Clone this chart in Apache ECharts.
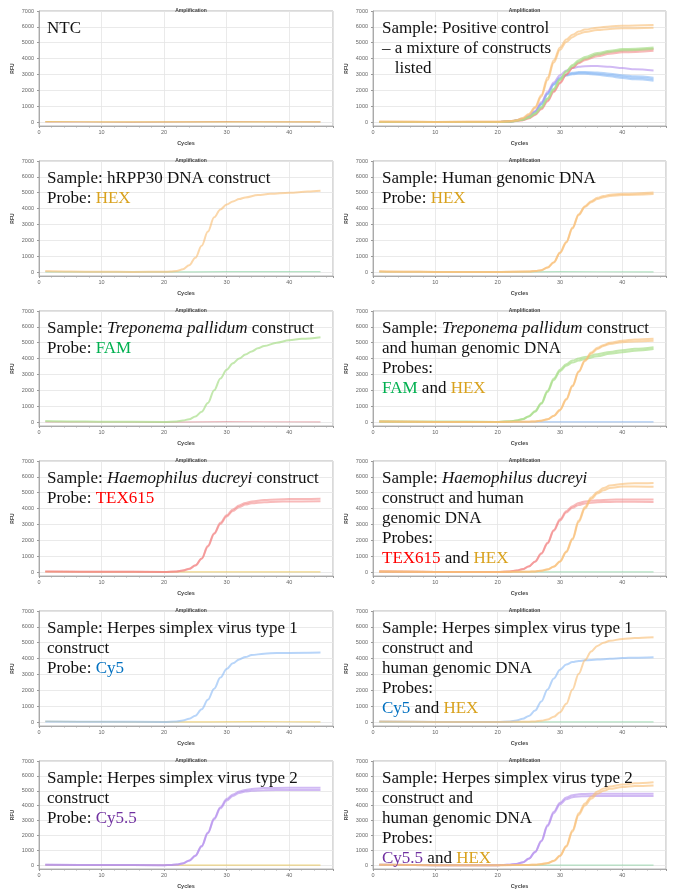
<!DOCTYPE html>
<html><head><meta charset="utf-8">
<script src="https://cdn.jsdelivr.net/npm/echarts@6/dist/echarts.min.js"></script>
<style>html,body{margin:0;padding:0;background:#fff}#c{width:673px;height:890px}</style>
</head><body><div id="c"></div>
<script>
// ---------- tick labels ----------
const yTickValues = [0, 1000, 2000, 3000, 4000, 5000, 6000, 7000];
const xTickStep = 10;

// ---------- data: [cycle, RFU] ----------
// Panel 1: NTC
const ntc_hex = [[1,30],[10,15],[20,10],[30,15],[45,10]];
const ntc_tex = [[1,10],[15,0],[30,20],[45,15]];
// Panel 2: positive control
const pc_hex_a = [[1,30],[10,10],[20,20],[22,60],[23,120],[24,250],[25,500],[26,950],[27,1700],[28,2800],[29,3900],[30,4700],[31,5200],[32,5500],[33,5700],[34,5830],[36,5950],[38,6030],[40,6070],[45,6120]];
const pc_hex_b = [[1,20],[10,10],[20,20],[22,50],[23,100],[24,220],[25,450],[26,880],[27,1600],[28,2650],[29,3750],[30,4550],[31,5050],[32,5350],[33,5550],[34,5680],[36,5800],[38,5870],[40,5910],[45,5950]];
const pc_fam_a = [[1,10],[20,10],[22,40],[24,150],[25,300],[26,550],[27,950],[28,1500],[29,2100],[30,2700],[31,3200],[32,3600],[33,3900],[34,4100],[36,4350],[38,4500],[40,4600],[45,4700]];
const pc_fam_b = [[1,10],[20,10],[22,35],[24,140],[25,280],[26,520],[27,900],[28,1450],[29,2050],[30,2650],[31,3150],[32,3520],[33,3800],[34,4000],[36,4250],[38,4420],[40,4520],[45,4620]];
const pc_tex_a = [[1,10],[20,10],[22,30],[24,120],[25,250],[26,480],[27,850],[28,1350],[29,1950],[30,2500],[31,3000],[32,3400],[33,3700],[34,3900],[36,4150],[38,4300],[40,4400],[45,4500]];
const pc_tex_b = [[1,10],[20,10],[22,30],[24,110],[25,230],[26,450],[27,800],[28,1300],[29,1900],[30,2450],[31,2980],[32,3420],[33,3750],[34,3980],[36,4250],[38,4420],[40,4500],[45,4600]];
const pc_cy55 = [[1,10],[20,10],[22,40],[24,180],[25,380],[26,700],[27,1250],[28,1900],[29,2500],[30,2950],[31,3250],[32,3400],[33,3480],[34,3520],[36,3530],[38,3480],[40,3400],[42,3330],[45,3250]];
const pc_cy5_a = [[1,10],[20,10],[22,40],[24,170],[25,350],[26,650],[27,1150],[28,1800],[29,2400],[30,2800],[31,3000],[32,3100],[33,3150],[34,3160],[36,3120],[38,3050],[40,2950],[42,2880],[45,2800]];
const pc_cy5_b = [[1,10],[20,10],[22,40],[24,160],[25,330],[26,620],[27,1100],[28,1750],[29,2350],[30,2720],[31,2920],[32,3020],[33,3050],[34,3040],[36,2980],[38,2880],[40,2780],[42,2690],[45,2600]];
const pc_cy5_c = [[1,10],[20,10],[22,40],[24,165],[25,340],[26,640],[27,1120],[28,1780],[29,2380],[30,2760],[31,2960],[32,3060],[33,3100],[34,3100],[36,3050],[38,2960],[40,2870],[42,2790],[45,2700]];
// Panel 3: hRPP30 construct, HEX
const rpp_hex = [[1,60],[5,30],[10,15],[15,10],[20,15],[21,30],[22,70],[23,180],[24,420],[25,900],[26,1650],[27,2550],[28,3450],[29,3950],[30,4250],[31,4450],[32,4600],[33,4700],[35,4850],[37,4930],[40,5000],[43,5070],[45,5120]];
const rpp_fam = [[1,10],[20,5],[30,20],[45,20]];
// Panel 4: human genomic DNA, HEX
const hg_hex_a = [[1,50],[5,25],[10,10],[20,10],[25,30],[26,60],[27,120],[28,280],[29,600],[30,1200],[31,1850],[32,2750],[33,3600],[34,4100],[35,4400],[36,4600],[37,4720],[38,4790],[40,4850],[45,4920]];
const hg_hex_b = [[1,40],[5,20],[10,10],[20,10],[25,30],[26,60],[27,120],[28,290],[29,620],[30,1230],[31,1900],[32,2800],[33,3650],[34,4150],[35,4470],[36,4680],[37,4800],[38,4870],[40,4930],[45,5020]];
const hg_fam = [[1,10],[20,5],[30,20],[45,15]];
// Panel 5: T. pallidum construct, FAM
const tp_fam = [[1,60],[5,40],[10,20],[20,10],[22,40],[23,90],[24,180],[25,350],[26,650],[27,1200],[28,2000],[29,2750],[30,3300],[31,3700],[32,4000],[33,4250],[34,4450],[35,4650],[36,4800],[38,5000],[40,5150],[42,5250],[45,5350]];
const tp_tex = [[1,10],[20,0],[30,20],[45,15]];
// Panel 6: T. pallidum + human gDNA, FAM & HEX
const tpg_fam_a = [[1,40],[10,15],[20,10],[22,40],[23,90],[24,180],[25,350],[26,650],[27,1150],[28,1900],[29,2650],[30,3200],[31,3550],[32,3750],[33,3880],[34,3980],[36,4150],[38,4300],[40,4400],[42,4500],[45,4600]];
const tpg_fam_b = [[1,40],[10,15],[20,10],[22,45],[23,95],[24,190],[25,370],[26,690],[27,1200],[28,1980],[29,2750],[30,3300],[31,3650],[32,3880],[33,4000],[34,4100],[36,4280],[38,4420],[40,4530],[42,4620],[45,4720]];
const tpg_hex_a = [[1,30],[10,10],[20,10],[25,20],[26,40],[27,80],[28,170],[29,380],[30,750],[31,1400],[32,2250],[33,3150],[34,3850],[35,4300],[36,4600],[37,4800],[38,4920],[40,5030],[42,5080],[45,5120]];
const tpg_hex_b = [[1,30],[10,10],[20,10],[25,20],[26,40],[27,85],[28,180],[29,400],[30,780],[31,1450],[32,2300],[33,3200],[34,3900],[35,4380],[36,4680],[37,4850],[38,5000],[40,5130],[42,5200],[45,5250]];
const tpg_cy5 = [[1,10],[20,5],[30,10],[45,10]];
// Panel 7: H. ducreyi construct, TEX615
const hd_tex_a = [[1,40],[10,15],[20,10],[22,40],[23,100],[24,200],[25,420],[26,850],[27,1650],[28,2450],[29,3100],[30,3580],[31,3950],[32,4200],[33,4350],[34,4450],[36,4540],[38,4580],[40,4600],[45,4620]];
const hd_tex_b = [[1,40],[10,15],[20,10],[22,40],[23,95],[24,195],[25,410],[26,830],[27,1600],[28,2400],[29,3030],[30,3500],[31,3850],[32,4100],[33,4250],[34,4330],[36,4400],[38,4430],[40,4450],[45,4460]];
const hd_hex = [[1,20],[15,10],[30,15],[45,10]];
// Panel 8: H. ducreyi + human gDNA, TEX615 & HEX
const hdg_tex_a = [[1,30],[10,10],[20,10],[22,40],[23,90],[24,180],[25,350],[26,650],[27,1150],[28,1800],[29,2600],[30,3250],[31,3750],[32,4050],[33,4220],[34,4320],[36,4400],[38,4420],[40,4430],[45,4420]];
const hdg_tex_b = [[1,30],[10,10],[20,10],[22,40],[23,90],[24,185],[25,360],[26,670],[27,1180],[28,1850],[29,2650],[30,3320],[31,3830],[32,4150],[33,4350],[34,4450],[36,4530],[38,4560],[40,4570],[45,4580]];
const hdg_hex_a = [[1,30],[10,10],[20,10],[25,20],[26,40],[27,80],[28,160],[29,330],[30,650],[31,1250],[32,2050],[33,3150],[34,4000],[35,4600],[36,4950],[37,5150],[38,5300],[40,5400],[42,5400],[45,5380]];
const hdg_hex_b = [[1,30],[10,10],[20,10],[25,20],[26,40],[27,85],[28,170],[29,345],[30,680],[31,1300],[32,2120],[33,3250],[34,4100],[35,4700],[36,5050],[37,5300],[38,5450],[40,5550],[42,5600],[45,5620]];
const hdg_fam = [[1,10],[20,5],[30,15],[45,10]];
// Panel 9: HSV-1 construct, Cy5
const hsv1_cy5 = [[1,40],[10,15],[20,10],[22,40],[23,100],[24,200],[25,400],[26,800],[27,1400],[28,2100],[29,2800],[30,3340],[31,3700],[32,3950],[33,4100],[34,4220],[36,4310],[38,4350],[40,4360],[45,4380]];
const hsv1_hex = [[1,40],[10,20],[20,10],[35,20],[45,15]];
// Panel 10: HSV-1 + human gDNA, Cy5 & HEX
const hsv1g_cy5 = [[1,30],[10,10],[20,10],[22,40],[23,100],[24,200],[25,380],[26,720],[27,1300],[28,2050],[29,2750],[30,3300],[31,3620],[32,3780],[33,3850],[34,3890],[36,3940],[38,3990],[40,4030],[42,4060],[45,4090]];
const hsv1g_hex = [[1,30],[10,10],[20,10],[25,20],[26,40],[27,80],[28,160],[29,330],[30,620],[31,1150],[32,2050],[33,3050],[34,3900],[35,4450],[36,4800],[37,5000],[38,5120],[40,5240],[42,5300],[45,5350]];
const hsv1g_fam = [[1,10],[20,5],[30,15],[45,10]];
// Panel 11: HSV-2 construct, Cy5.5
const hsv2_cy55_a = [[1,40],[10,15],[20,10],[21,25],[22,50],[23,130],[24,320],[25,650],[26,1300],[27,2200],[28,3150],[29,3900],[30,4450],[31,4750],[32,4950],[33,5050],[34,5120],[36,5180],[40,5200],[45,5200]];
const hsv2_cy55_b = [[1,40],[10,15],[20,10],[21,25],[22,50],[23,125],[24,310],[25,630],[26,1260],[27,2150],[28,3080],[29,3820],[30,4350],[31,4650],[32,4850],[33,4950],[34,5000],[36,5040],[40,5050],[45,5060]];
const hsv2_hex = [[1,30],[10,15],[20,10],[35,15],[45,10]];
// Panel 12: HSV-2 + human gDNA, Cy5.5 & HEX
const hsv2g_cy55_a = [[1,30],[10,10],[20,10],[21,20],[22,40],[23,90],[24,200],[25,450],[26,900],[27,1650],[28,2700],[29,3600],[30,4200],[31,4550],[32,4700],[33,4770],[34,4790],[36,4800],[40,4800],[45,4800]];
const hsv2g_cy55_b = [[1,30],[10,10],[20,10],[21,20],[22,40],[23,85],[24,190],[25,430],[26,870],[27,1600],[28,2620],[29,3500],[30,4100],[31,4430],[32,4570],[33,4620],[34,4640],[36,4650],[40,4650],[45,4650]];
const hsv2g_hex_a = [[1,30],[10,10],[20,10],[25,20],[26,40],[27,80],[28,150],[29,300],[30,650],[31,1300],[32,2350],[33,3500],[34,4150],[35,4600],[36,4950],[37,5150],[38,5280],[40,5420],[42,5500],[45,5570]];
const hsv2g_hex_b = [[1,30],[10,10],[20,10],[25,20],[26,40],[27,75],[28,140],[29,285],[30,620],[31,1240],[32,2250],[33,3380],[34,4020],[35,4460],[36,4800],[37,5000],[38,5130],[40,5250],[42,5320],[45,5360]];
const hsv2g_fam = [[1,10],[20,5],[30,15],[45,10]];

// ---------- panel labels ----------
const panelTexts = [
  'NTC',
  'Sample: Positive control\n– a mixture of constructs\n   listed',
  'Sample: hRPP30 DNA construct\nProbe: {hex|HEX}',
  'Sample: Human genomic DNA\nProbe: {hex|HEX}',
  'Sample: {i|Treponema pallidum} construct\nProbe: {fam|FAM}',
  'Sample: {i|Treponema pallidum} construct\nand human genomic DNA\nProbes:\n{fam|FAM} and {hex|HEX}',
  'Sample: {i|Haemophilus ducreyi} construct\nProbe: {tex|TEX615}',
  'Sample: {i|Haemophilus ducreyi}\nconstruct and human\ngenomic DNA\nProbes:\n{tex|TEX615} and {hex|HEX}',
  'Sample: Herpes simplex virus type 1\nconstruct\nProbe: {cy5|Cy5}',
  'Sample: Herpes simplex virus type 1\nconstruct and\nhuman genomic DNA\nProbes:\n{cy5|Cy5} and {hex|HEX}',
  'Sample: Herpes simplex virus type 2\nconstruct\nProbe: {cy55|Cy5.5}',
  'Sample: Herpes simplex virus type 2\nconstruct and\nhuman genomic DNA\nProbes:\n{cy55|Cy5.5} and {hex|HEX}'
];

// ---------- build ----------
const curveColor = {
  HEX: 'rgba(248,190,118,0.62)',
  FAM: 'rgba(170,222,140,0.7)',
  TEX: 'rgba(242,130,130,0.55)',
  CY5: 'rgba(140,188,245,0.62)',
  CY55: 'rgba(178,140,236,0.6)',
  BASE_HEX: 'rgba(230,190,60,0.6)',
  BASE_FAM: 'rgba(110,200,140,0.5)',
  BASE_TEX: 'rgba(200,80,90,0.4)',
  BASE_CY5: 'rgba(90,150,230,0.5)'
};
const panelCurves = [
  [[ntc_tex,'BASE_TEX'],[ntc_hex,'BASE_HEX']],
  [[pc_cy5_b,'CY5'],[pc_cy5_c,'CY5'],[pc_cy5_a,'CY5'],[pc_cy55,'CY55'],[pc_tex_a,'TEX'],[pc_tex_b,'TEX'],[pc_fam_a,'FAM'],[pc_fam_b,'FAM'],[pc_hex_b,'HEX'],[pc_hex_a,'HEX']],
  [[rpp_fam,'BASE_FAM'],[rpp_hex,'HEX']],
  [[hg_fam,'BASE_FAM'],[hg_hex_a,'HEX'],[hg_hex_b,'HEX']],
  [[tp_tex,'BASE_TEX'],[tp_fam,'FAM']],
  [[tpg_cy5,'BASE_CY5'],[tpg_fam_a,'FAM'],[tpg_fam_b,'FAM'],[tpg_hex_a,'HEX'],[tpg_hex_b,'HEX']],
  [[hd_hex,'BASE_HEX'],[hd_tex_a,'TEX'],[hd_tex_b,'TEX']],
  [[hdg_fam,'BASE_FAM'],[hdg_tex_a,'TEX'],[hdg_tex_b,'TEX'],[hdg_hex_a,'HEX'],[hdg_hex_b,'HEX']],
  [[hsv1_hex,'BASE_HEX'],[hsv1_cy5,'CY5']],
  [[hsv1g_fam,'BASE_FAM'],[hsv1g_cy5,'CY5'],[hsv1g_hex,'HEX']],
  [[hsv2_hex,'BASE_HEX'],[hsv2_cy55_a,'CY55'],[hsv2_cy55_b,'CY55']],
  [[hsv2g_fam,'BASE_FAM'],[hsv2g_cy55_a,'CY55'],[hsv2g_cy55_b,'CY55'],[hsv2g_hex_a,'HEX'],[hsv2g_hex_b,'HEX']]
];

const colLeft = [39, 373], colWidth = [294, 293], textLeft = [47, 382];
const serif = '"Liberation Serif", "Times New Roman", serif';
const sans = 'Arial, "Liberation Sans", sans-serif';
const richBase = { fontFamily: serif, fontSize: 17, lineHeight: 20, fill: '#111' };
const rich = {
  i: Object.assign({}, richBase, { fontStyle: 'italic' }),
  hex: Object.assign({}, richBase, { fill: '#D9A21E' }),
  fam: Object.assign({}, richBase, { fill: '#00B050' }),
  tex: Object.assign({}, richBase, { fill: '#FF0000' }),
  cy5: Object.assign({}, richBase, { fill: '#0070C0' }),
  cy55: Object.assign({}, richBase, { fill: '#7030A0' })
};

const grid = [], xAxis = [], yAxis = [], series = [], title = [], graphic = [];
panelCurves.forEach((curves, i) => {
  const row = Math.floor(i / 2), col = i % 2;
  const top = 11 + 150 * row;
  grid.push({ left: colLeft[col], top: top, width: colWidth[col], height: 115,
    show: true, borderColor: '#b5b5b5', borderWidth: 1, backgroundColor: '#fff' });
  xAxis.push({ gridIndex: i, type: 'value', min: 0, max: 47, interval: xTickStep,
    axisLine: { show: true, onZero: false, lineStyle: { color: '#aaa', width: 1 } },
    axisTick: { show: true, length: 2, lineStyle: { color: '#999' } },
    minorTick: { show: true, splitNumber: 5, length: 1.5, lineStyle: { color: '#aaa' } },
    axisLabel: { fontSize: 5.5, color: '#666', margin: 3, fontFamily: sans, showMaxLabel: false },
    splitLine: { show: true, lineStyle: { color: '#e4e4e4', width: 0.8 } },
    name: 'Cycles', nameLocation: 'middle', nameGap: 14,
    nameTextStyle: { fontSize: 5.5, fontWeight: 'bold', color: '#444', fontFamily: sans } });
  yAxis.push({ gridIndex: i, type: 'value', min: -250, max: 7000,
    axisLine: { show: true, lineStyle: { color: '#aaa', width: 1 } },
    axisTick: { show: true, length: 2, customValues: yTickValues, lineStyle: { color: '#999' } },
    axisLabel: { fontSize: 5.5, color: '#666', margin: 5, fontFamily: sans, customValues: yTickValues,
      formatter: v => String(v) },
    splitLine: { show: true, lineStyle: { color: '#e4e4e4', width: 0.8 } },
    name: 'RFU', nameLocation: 'middle', nameGap: 24, nameRotate: 90,
    nameTextStyle: { fontSize: 5, fontWeight: 'bold', color: '#444', fontFamily: sans } });
  title.push({ text: 'Amplification', left: colLeft[col] + colWidth[col] / 2, top: top - 8, textAlign: 'center',
    textStyle: { fontSize: 5, fontWeight: 'bold', color: '#444', fontFamily: sans } });
  curves.forEach(([data, key]) => {
    series.push({ type: 'line', xAxisIndex: i, yAxisIndex: i, data: data,
      symbol: 'none', smooth: 0.35, smoothMonotone: 'x', silent: true,
      lineStyle: { color: curveColor[key], width: key.startsWith('BASE') ? 1.2 : 2 } });
  });
  graphic.push({ type: 'text', left: textLeft[col], top: top + 8, z: 100, silent: true,
    style: { text: panelTexts[i], fill: '#111', font: '17px ' + serif, lineHeight: 20, rich: rich } });
});

const chart = echarts.init(document.getElementById('c'), null, { renderer: 'canvas' });
chart.setOption({ animation: false, backgroundColor: '#fff', title, grid, xAxis, yAxis, series, graphic });
</script>
</body></html>
